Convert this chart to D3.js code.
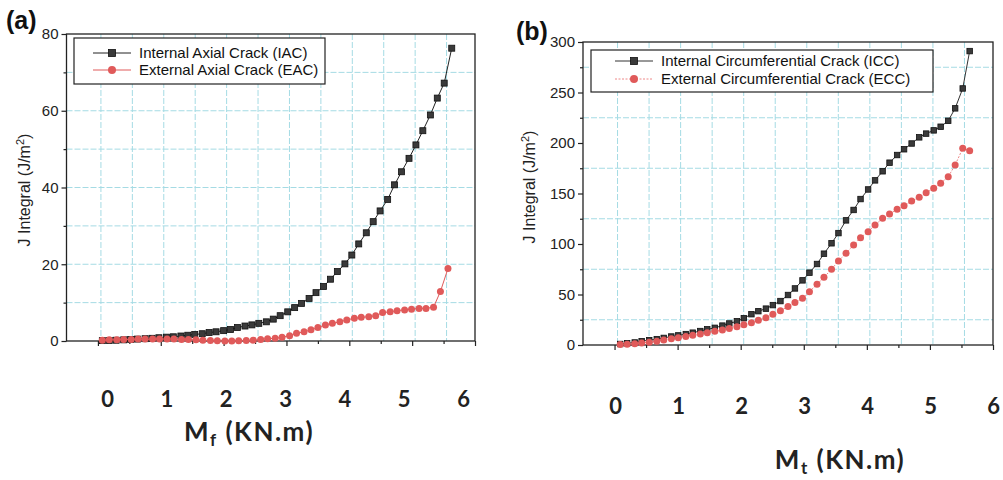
<!DOCTYPE html>
<html><head><meta charset="utf-8">
<script src="https://cdn.jsdelivr.net/npm/d3@7"></script>
<style>
body{margin:0;background:#fff;}
svg{display:block;}
</style></head><body>
<svg id="c" width="1003" height="480"></svg>
<script>
// ---------- Panel (a) data ----------
const xIAC = [0.07,0.18,0.29,0.41,0.52,0.63,0.75,0.86,0.97,1.09,1.20,1.32,1.43,1.54,1.66,1.77,1.88,2.00,2.11,2.22,2.34,2.45,2.56,2.68,2.79,2.90,3.02,3.13,3.24,3.36,3.47,3.59,3.70,3.81,3.93,4.04,4.15,4.27,4.38,4.49,4.61,4.72,4.83,4.95,5.06,5.17,5.29,5.40,5.51,5.63];
const jIAC = [0.1,0.15,0.2,0.3,0.4,0.5,0.6,0.7,0.85,1.0,1.1,1.3,1.5,1.7,1.9,2.2,2.4,2.7,3.0,3.5,3.9,4.2,4.6,5.0,5.7,6.6,7.6,8.7,9.8,11.1,12.6,14.2,16.1,18.1,20.1,22.4,25.3,28.2,31.1,33.9,36.9,40.7,44.1,47.6,51.1,54.8,58.9,63.3,67.2,76.3];
const xEAC = [0.07,0.18,0.30,0.41,0.53,0.64,0.75,0.87,0.98,1.10,1.21,1.33,1.44,1.56,1.67,1.79,1.90,2.02,2.13,2.24,2.36,2.47,2.59,2.70,2.82,2.93,3.05,3.16,3.28,3.39,3.50,3.62,3.73,3.85,3.96,4.08,4.19,4.31,4.42,4.53,4.65,4.76,4.88,4.99,5.11,5.22,5.34,5.45,5.57];
const jEAC = [0.2,0.3,0.3,0.4,0.4,0.5,0.5,0.5,0.5,0.5,0.5,0.4,0.4,0.3,0.2,0.1,0.05,0.0,0.0,0.05,0.1,0.2,0.4,0.6,0.7,1.0,1.4,2.0,2.4,2.9,3.5,4.2,4.6,5.0,5.5,5.9,6.2,6.3,6.6,7.4,7.6,7.9,8.1,8.3,8.5,8.5,8.8,12.9,18.9];

// ---------- Panel (b) data ----------
const xCirc = [0.09,0.20,0.32,0.43,0.55,0.67,0.78,0.90,1.01,1.13,1.24,1.36,1.47,1.59,1.71,1.82,1.94,2.05,2.17,2.28,2.40,2.51,2.63,2.75,2.86,2.98,3.09,3.21,3.32,3.44,3.55,3.67,3.79,3.90,4.02,4.13,4.25,4.36,4.48,4.59,4.71,4.83,4.94,5.06,5.17,5.29,5.40,5.52,5.63];
const jICC = [1,1.7,2.5,3.8,4.8,5.8,7.0,8.4,9.5,10.8,12.2,13.8,15.5,17.0,19.2,21.3,23.5,26.5,30.5,33.5,36,39.5,43.5,49.5,56,64,71.6,80.2,90.4,100.7,110.8,123.4,133.7,144.5,154,163,172,180.5,188.1,193.8,199.5,205.6,209.3,212.5,216.1,222,234.3,254,291];
const jECC = [0.5,0.8,1.3,2.0,2.8,3.8,5.0,6.2,7.3,8.4,9.6,10.9,12.2,13.5,14.9,16.3,18.0,20.0,22.0,24.5,27.0,30.5,34,38,42,46.2,52.8,60.1,67,75,83.2,90.8,99,106.2,112.2,118.8,125.4,129.7,134.3,137.9,142.6,146.2,150.8,155.1,160.1,166.6,178.2,194.7,192.4];

// ---------- ticks / labels ----------
const xTickLabels = [0,1,2,3,4,5,6];
const xMajorTicks = [0,1,2,3,4,5,6];
const xMinorTicks = [0.5,1.5,2.5,3.5,4.5,5.5];
const xGrid = [0,0.5,1,1.5,2,2.5,3,3.5,4,4.5,5,5.5];
const yMajorA = [0,20,40,60,80];
const yMinorA = [10,30,50,70];
const yGridA = [10,20,30,40,50,60,70];
const yMajorB = [0,50,100,150,200,250,300];
const yMinorB = [25,75,125,175,225,275];
const yGridB = [25,75,125,175,225,275];
const legendA = ["Internal Axial Crack (IAC)", "External Axial Crack (EAC)"];
const legendB = ["Internal Circumferential Crack (ICC)", "External Circumferential Crack (ECC)"];

const svg = d3.select("#c");
const SANS = "'Liberation Sans', Arial, sans-serif";
const BOLD = "Lato, 'Open Sans', sans-serif";
const RED = "#e05a5a";

function panel(o) {
  const x = d3.scaleLinear().domain([-0.5, 6]).range([o.left, o.right]);
  const y = d3.scaleLinear().domain([0, o.ymax]).range([o.bottom, o.top]);
  const g = svg.append("g");

  // grid
  g.append("g").selectAll("line").data(o.yGrid).join("line")
    .attr("x1", o.left).attr("x2", o.right)
    .attr("y1", d => y(d)).attr("y2", d => y(d))
    .attr("stroke", "#a5dbe4").attr("stroke-width", 1).attr("stroke-dasharray", "6,2");
  g.append("g").selectAll("line").data(xGrid).join("line")
    .attr("x1", d => x(d) + 3).attr("x2", d => x(d) + 3)
    .attr("y1", o.top).attr("y2", o.bottom)
    .attr("stroke", "#a5dbe4").attr("stroke-width", 1).attr("stroke-dasharray", "6,2");

  // x axis ticks (no labels)
  const xa = g.append("g").attr("transform", `translate(0,${o.bottom})`)
    .call(d3.axisBottom(x).tickValues(xMajorTicks).tickSize(5).tickFormat(""));
  const xb = g.append("g").attr("transform", `translate(0,${o.bottom})`)
    .call(d3.axisBottom(x).tickValues(xMinorTicks).tickSize(3).tickFormat(""));
  // y axis
  const ya = g.append("g").attr("transform", `translate(${o.left},0)`)
    .call(d3.axisLeft(y).tickValues(o.yMajor).tickSize(5).tickPadding(3));
  const yb = g.append("g").attr("transform", `translate(${o.left},0)`)
    .call(d3.axisLeft(y).tickValues(o.yMinor).tickSize(3).tickFormat(""));
  [xa, xb, ya, yb].forEach(a => {
    a.select(".domain").remove();
    a.selectAll(".tick line").attr("stroke", "#222").attr("stroke-width", 1.2);
  });
  ya.selectAll("text").attr("font-family", SANS).attr("font-size", 15).attr("fill", "#222");

  // frame
  g.append("rect").attr("x", o.left).attr("y", o.top)
    .attr("width", o.right - o.left).attr("height", o.bottom - o.top)
    .attr("fill", "none").attr("stroke", "#222").attr("stroke-width", 1.3);

  // series
  o.series.forEach(s => {
    const pts = s.xs.map((v, i) => [v, s.ys[i]]);
    g.append("path").datum(pts)
      .attr("d", d3.line().x(d => x(d[0])).y(d => y(d[1])))
      .attr("fill", "none").attr("stroke", s.line).attr("stroke-width", 1)
      .attr("stroke-dasharray", s.dash || null);
    if (s.shape === "square") {
      g.append("g").selectAll("rect").data(pts).join("rect")
        .attr("x", d => x(d[0]) - s.size / 2).attr("y", d => y(d[1]) - s.size / 2)
        .attr("width", s.size).attr("height", s.size)
        .attr("fill", "#3a3a3a").attr("stroke", "#111").attr("stroke-width", 0.8);
    } else {
      g.append("g").selectAll("circle").data(pts).join("circle")
        .attr("cx", d => x(d[0])).attr("cy", d => y(d[1])).attr("r", s.size / 2)
        .attr("fill", RED);
    }
  });

  // legend
  const L = o.legend;
  g.append("rect").attr("x", L.x).attr("y", L.y).attr("width", L.w).attr("height", L.h)
    .attr("fill", "#fff").attr("stroke", "#222").attr("stroke-width", 1.2);
  o.series.forEach((s, i) => {
    const ly = L.y + L.row0 + i * L.dy;
    g.append("line").attr("x1", L.lx).attr("x2", L.lx + 38).attr("y1", ly).attr("y2", ly)
      .attr("stroke", s.line).attr("stroke-width", 1).attr("stroke-dasharray", s.dash || null);
    if (s.shape === "square") {
      g.append("rect").attr("x", L.lx + 19 - 3.5).attr("y", ly - 3.5).attr("width", 7).attr("height", 7)
        .attr("fill", "#3a3a3a").attr("stroke", "#111").attr("stroke-width", 0.8);
    } else {
      g.append("circle").attr("cx", L.lx + 19).attr("cy", ly).attr("r", 4).attr("fill", RED);
    }
    g.append("text").attr("x", L.lx + 46).attr("y", ly + 5)
      .attr("font-family", SANS).attr("font-size", 15).attr("fill", "#111")
      .text(o.legendText[i]);
  });

  // detached x tick labels
  const lab = d3.scaleLinear().domain([0, 6]).range(o.labRange);
  const la = g.append("g").attr("transform", `translate(0,${o.labY})`)
    .call(d3.axisBottom(lab).tickValues(xTickLabels).tickSize(0).tickFormat(d3.format("d")));
  la.select(".domain").remove();
  la.selectAll("text").attr("y", 0).attr("dy", null)
    .attr("font-family", BOLD).attr("font-weight", 700).attr("font-size", 22).attr("fill", "#222");

  // x title
  const t = g.append("text").attr("x", o.titleX).attr("y", o.titleY).attr("text-anchor", "middle")
    .attr("font-family", BOLD).attr("font-weight", 700).attr("font-size", 26)
    .attr("letter-spacing", 1.5).attr("fill", "#222");
  t.append("tspan").text("M");
  t.append("tspan").attr("font-size", 17).attr("dy", 5).text(o.sub);
  t.append("tspan").attr("dy", -5).text(" (KN.m)");

  // y title
  const yt = g.append("text")
    .attr("transform", `translate(${o.ylabX},${o.ylabY}) rotate(-90)`)
    .attr("text-anchor", "middle").attr("font-family", SANS).attr("font-size", 16).attr("fill", "#222");
  yt.append("tspan").text("J Integral (J/m");
  yt.append("tspan").attr("font-size", 11).attr("dy", -6).text("2");
  yt.append("tspan").attr("dy", 6).text(")");

  // panel label
  g.append("text").attr("x", o.pl[0]).attr("y", o.pl[1])
    .attr("font-family", SANS).attr("font-weight", 700).attr("font-size", 25).attr("fill", "#111")
    .text(o.plText);
}

panel({
  left: 66.5, right: 475, top: 34, bottom: 341, ymax: 80,
  yMajor: yMajorA, yMinor: yMinorA, yGrid: yGridA,
  series: [
    {xs: xIAC, ys: jIAC, shape: "square", size: 6, line: "#222"},
    {xs: xEAC, ys: jEAC, shape: "circle", size: 7, line: RED}
  ],
  legend: {x: 74, y: 38, w: 251, h: 46, lx: 93, row0: 15, dy: 17},
  legendText: legendA,
  labRange: [107, 463], labY: 407,
  titleX: 249, titleY: 441, sub: "f",
  ylabX: 30, ylabY: 190,
  pl: [6, 29], plText: "(a)"
});

panel({
  left: 583, right: 993, top: 42, bottom: 345, ymax: 300,
  yMajor: yMajorB, yMinor: yMinorB, yGrid: yGridB,
  series: [
    {xs: xCirc, ys: jICC, shape: "square", size: 5.5, line: "#333"},
    {xs: xCirc, ys: jECC, shape: "circle", size: 7, line: "#e88", dash: "2,1.5"}
  ],
  legend: {x: 591, y: 50, w: 342, h: 42, lx: 615, row0: 11, dy: 18},
  legendText: legendB,
  labRange: [615, 993], labY: 414,
  titleX: 840, titleY: 469, sub: "t",
  ylabX: 535, ylabY: 187,
  pl: [516, 40], plText: "(b)"
});
</script>
</body></html>
